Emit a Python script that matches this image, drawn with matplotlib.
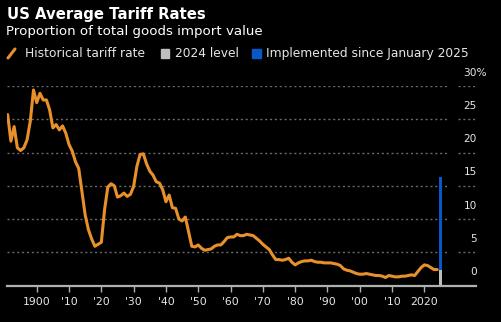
import matplotlib
matplotlib.use("Agg")
import matplotlib.pyplot as plt
from matplotlib.patches import Rectangle
from matplotlib.lines import Line2D

# ---- data ----
years = list(range(1891, 2025))
rates = [25.7, 21.7, 23.9, 20.7, 20.3, 20.7, 21.9, 24.7, 29.4, 27.5,
         28.9, 27.9, 27.9, 26.4, 23.7, 24.2, 23.4, 24.0, 22.9, 21.2,
         20.2, 18.6, 17.6, 14.1, 10.6, 8.4, 7.0, 5.9, 6.2, 6.5,
         11.4, 14.8, 15.3, 15.0, 13.3, 13.5, 13.9, 13.4, 13.7, 14.9,
         17.9, 19.7, 19.8, 18.3, 17.2, 16.6, 15.6, 15.4, 14.4, 12.6,
         13.6, 11.7, 11.6, 10.0, 9.7, 10.3, 8.1, 5.9, 5.8, 6.1,
         5.6, 5.3, 5.4, 5.5, 5.9, 6.1, 6.1, 6.6, 7.2, 7.3,
         7.3, 7.7, 7.5, 7.5, 7.7, 7.6, 7.5, 7.1, 6.7, 6.2,
         5.8, 5.4, 4.6, 3.9, 3.9, 3.8, 3.9, 4.1, 3.5, 3.1,
         3.4, 3.6, 3.7, 3.7, 3.8, 3.6, 3.5, 3.5, 3.4, 3.4,
         3.4, 3.3, 3.2, 3.0, 2.5, 2.3, 2.2, 2.0, 1.8, 1.7,
         1.7, 1.8, 1.7, 1.6, 1.5, 1.5, 1.4, 1.2, 1.5, 1.4,
         1.3, 1.3, 1.4, 1.4, 1.5, 1.6, 1.5, 2.1, 2.7, 3.1,
         3.0, 2.7, 2.4, 2.4]
bar_year = 2025
level_2024 = 2.4
implemented_total = 16.3

xticks = [1900, 1910, 1920, 1930, 1940, 1950, 1960, 1970, 1980, 1990, 2000, 2010, 2020]
xticklabels = ["1900", "'10", "'20", "'30", "'40", "'50", "'60", "'70", "'80", "'90", "'00", "'10", "2020"]
yticks = [0, 5, 10, 15, 20, 25, 30]
ytick_labels = ["0", "5", "10", "15", "20", "25", "30%"]

ORANGE = "#E8902A"
BLUE = "#0A57C8"
GREY = "#BEBEBE"
TXT = "#E6E6E6"

W, H = 501, 322
fig = plt.figure(figsize=(W / 100, H / 100), dpi=100, facecolor="black")

def fx(px):
    return px / W

def fy(py):
    return 1 - py / H

ax_l, ax_r, ax_b, ax_t = 6.7, 476, 285.5, 86
ax = fig.add_axes([fx(ax_l), fy(ax_b), fx(ax_r - ax_l), (ax_b - ax_t) / H])
ax.set_facecolor("black")
ax.set_xlim(1890.7, 2036.0)
ax.set_ylim(0, 30)

# gridlines
for v in yticks[1:]:
    ax.axhline(v, xmin=0, xmax=0.9425, color="#6a6a6a", lw=1.0, ls=(0, (1.5, 2)), zorder=1)
    ax.axhline(v, xmin=0.9617, xmax=1.0, color="#6a6a6a", lw=1.0, ls=(0, (1.5, 2)), zorder=1)

# right-side value labels (inside the plot, above gridlines)
lab_right = (477 - ax_l) / (ax_r - ax_l)
lab_left = (463 - ax_l) / (ax_r - ax_l)
for v, lab in zip(yticks, ytick_labels):
    if lab.endswith("%"):
        ax.text(lab_left, v + 1.25, lab, transform=ax.get_yaxis_transform(), ha="left",
                va="bottom", color=TXT, fontsize=7.6)
    else:
        ax.text(lab_right, v + 1.25, lab, transform=ax.get_yaxis_transform(), ha="right",
                va="bottom", color=TXT, fontsize=7.6)

ax.plot(years, rates, color=ORANGE, lw=2.2, solid_joinstyle="round", solid_capstyle="round", zorder=3)
ax.bar([bar_year], [level_2024], width=0.75, color=GREY, zorder=2)
ax.bar([bar_year], [implemented_total - level_2024], bottom=[level_2024], width=0.75, color=BLUE, zorder=2)

for s in ["top", "left", "right"]:
    ax.spines[s].set_visible(False)
ax.spines["bottom"].set_color("#b0b0b0")
ax.spines["bottom"].set_linewidth(1.6)
ax.set_yticks([])
ax.set_xticks(xticks)
ax.set_xticklabels(xticklabels)
ax.tick_params(axis="x", colors="#b0b0b0", length=4.5, width=1.0, pad=4, labelsize=7.8, labelcolor=TXT)

# titles
fig.text(fx(7), fy(14), "US Average Tariff Rates", color="white", fontsize=10.7,
         fontweight="bold", va="center", ha="left")
fig.text(fx(6), fy(32), "Proportion of total goods import value", color="white", fontsize=9.6,
         va="center", ha="left")

# legend
ly = 53.5
fs_leg = 8.8
fig.add_artist(Line2D([fx(8), fx(15)], [fy(ly + 4.5), fy(ly - 4.5)], color=ORANGE, lw=2.2,
                      solid_capstyle="round"))
fig.text(fx(25), fy(ly), "Historical tariff rate", color=TXT, fontsize=fs_leg, va="center", ha="left")
fig.add_artist(Rectangle((fx(161), fy(ly + 4)), fx(8), 8 / H, color=GREY, transform=fig.transFigure))
fig.text(fx(175), fy(ly), "2024 level", color=TXT, fontsize=fs_leg, va="center", ha="left")
fig.add_artist(Rectangle((fx(252), fy(ly + 4)), fx(9), 8 / H, color=BLUE, transform=fig.transFigure))
fig.text(fx(266), fy(ly), "Implemented since January 2025", color=TXT, fontsize=fs_leg,
         va="center", ha="left")

fig.savefig("out.png", dpi=100, facecolor="black")
